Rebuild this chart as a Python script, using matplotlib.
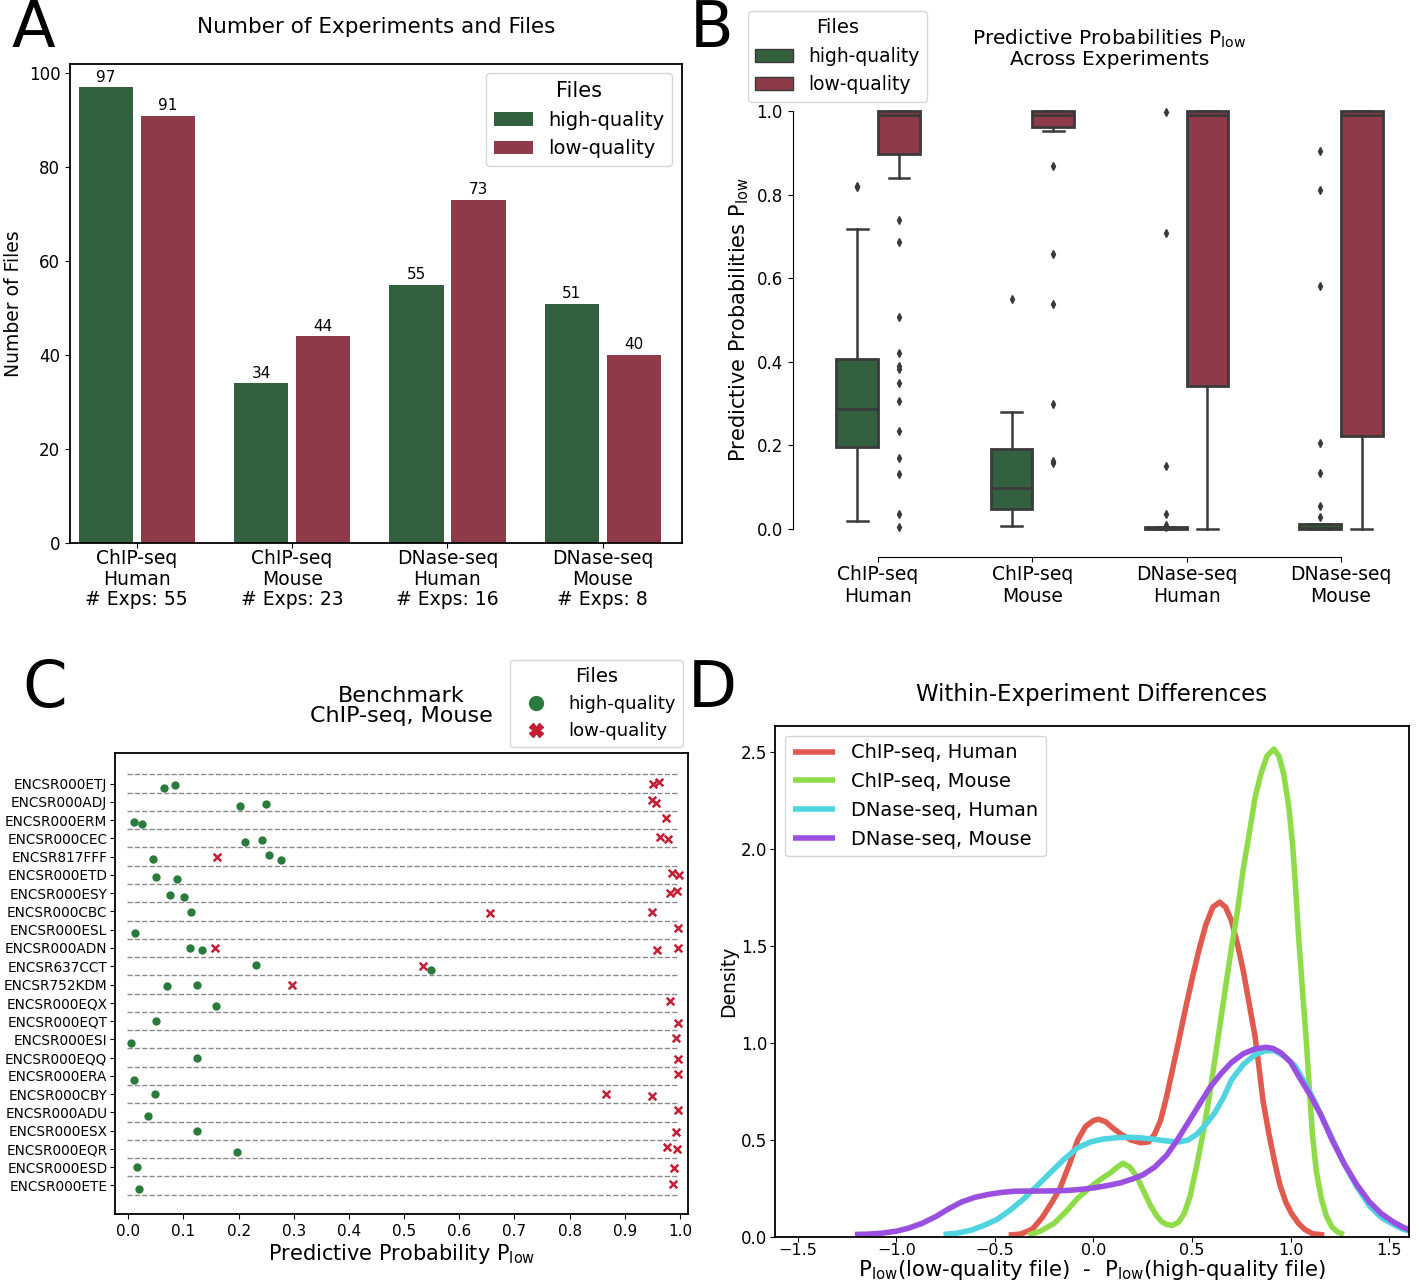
import matplotlib
matplotlib.use('Agg')
import matplotlib.pyplot as plt
from matplotlib.patches import Patch
from matplotlib.lines import Line2D

plt.rcParams['font.family'] = ['DejaVu Sans']

GREEN = '#33603f'
RED = '#8e3a48'
DOT_GREEN = '#2b7a3d'
X_RED = '#c41e34'

# ---------------- Panel A data ----------------
groups_a = ['ChIP-seq\nHuman\n# Exps: 55', 'ChIP-seq\nMouse\n# Exps: 23',
            'DNase-seq\nHuman\n# Exps: 16', 'DNase-seq\nMouse\n# Exps: 8']
high_counts = [97, 34, 55, 51]
low_counts = [91, 44, 73, 40]

# ---------------- Panel B data ----------------
groups_b = ['ChIP-seq\nHuman', 'ChIP-seq\nMouse', 'DNase-seq\nHuman', 'DNase-seq\nMouse']
# (whislo, q1, med, q3, whishi)
high_box = [(0.020, 0.197, 0.288, 0.406, 0.717),
            (0.007, 0.048, 0.098, 0.192, 0.279),
            (0.000, 0.000, 0.002, 0.004, 0.006),
            (0.000, 0.000, 0.003, 0.011, 0.013)]
high_fliers = [[0.820, 0.817],
               [0.551],
               [0.998, 0.709, 0.150, 0.036, 0.010, 0.006],
               [0.905, 0.811, 0.582, 0.207, 0.134, 0.056, 0.030]]
low_box = [(0.839, 0.896, 0.990, 1.000, 1.000),
           (0.953, 0.962, 0.990, 1.000, 1.000),
           (0.000, 0.343, 0.991, 1.000, 1.000),
           (0.000, 0.223, 0.990, 1.000, 1.000)]
low_fliers = [[0.738, 0.687, 0.507, 0.421, 0.389, 0.384, 0.349, 0.306, 0.235, 0.170, 0.131, 0.037, 0.006],
              [0.869, 0.659, 0.538, 0.300, 0.164, 0.159],
              [],
              []]

# ---------------- Panel C data ----------------
experiments = ['ENCSR000ETJ', 'ENCSR000ADJ', 'ENCSR000ERM', 'ENCSR000CEC', 'ENCSR817FFF',
               'ENCSR000ETD', 'ENCSR000ESY', 'ENCSR000CBC', 'ENCSR000ESL', 'ENCSR000ADN',
               'ENCSR637CCT', 'ENCSR752KDM', 'ENCSR000EQX', 'ENCSR000EQT', 'ENCSR000ESI',
               'ENCSR000EQQ', 'ENCSR000ERA', 'ENCSR000CBY', 'ENCSR000ADU', 'ENCSR000ESX',
               'ENCSR000EQR', 'ENCSR000ESD', 'ENCSR000ETE']
high_vals = [[0.065, 0.085], [0.202, 0.249], [0.010, 0.025], [0.211, 0.243], [0.044, 0.255, 0.277],
             [0.051, 0.088], [0.076, 0.101], [0.114], [0.013], [0.112, 0.133],
             [0.232, 0.548], [0.071, 0.124], [0.159], [0.051], [0.005],
             [0.124], [0.011], [0.048], [0.036], [0.124],
             [0.198], [0.015], [0.020]]
high_jitter = [[0.23, 0.10], [0.21, 0.10], [0.11, 0.22], [0.20, 0.11], [0.11, -0.09, 0.20],
               [0.11, 0.21], [0.10, 0.21], [0.02], [0.20], [0.0, 0.11],
               [-0.08, 0.21], [0.10, 0.01], [0.20], [0.0], [0.20],
               [0.0], [0.21], [0.01], [0.20], [0.0],
               [0.19], [0.0], [0.20]]
low_vals = [[0.951, 0.962], [0.949, 0.957], [0.974], [0.964, 0.979], [0.161],
            [0.986, 0.998], [0.982, 0.995], [0.656, 0.949], [0.996], [0.158, 0.959, 0.996],
            [0.534], [0.297], [0.981], [0.996], [0.993],
            [0.996], [0.996], [0.865, 0.950], [0.996], [0.993],
            [0.977, 0.994], [0.990], [0.988]]
low_jitter = [[0.0, -0.08], [-0.08, 0.05], [-0.09], [-0.09, 0.02], [0.02],
              [-0.09, 0.02], [0.0, -0.10], [0.10, 0.02], [-0.09], [0.0, 0.11, 0.0],
              [-0.01], [0.01], [-0.09], [0.11], [-0.09],
              [0.10], [-0.10], [0.0, 0.09], [-0.11], [0.06],
              [-0.10, 0.0], [0.06], [-0.09]]

# ---------------- Panel D data (density curves) ----------------
kde_labels = ['ChIP-seq, Human', 'ChIP-seq, Mouse', 'DNase-seq, Human', 'DNase-seq, Mouse']
kde_colors = ['#e05a4e', '#8fdc4a', '#4fd4e0', '#9b4fe0']
chip_human_x = [-0.43, -0.37, -0.31, -0.26, -0.21, -0.17, -0.12, -0.08, -0.04, 0.0, 0.025, 0.06,
                0.10, 0.14, 0.19, 0.24, 0.28, 0.31, 0.34, 0.37, 0.40, 0.43, 0.465, 0.50, 0.535,
                0.57, 0.605, 0.64, 0.67, 0.70, 0.73, 0.76, 0.79, 0.82, 0.84, 0.86, 0.89, 0.92,
                0.945, 0.975, 1.005, 1.04, 1.07, 1.11, 1.17]
chip_human_y = [0.01, 0.015, 0.04, 0.10, 0.18, 0.25, 0.38, 0.50, 0.57, 0.60, 0.607, 0.595,
                0.56, 0.53, 0.50, 0.486, 0.49, 0.53, 0.60, 0.72, 0.86, 1.00, 1.17, 1.33, 1.48,
                1.61, 1.70, 1.726, 1.70, 1.63, 1.51, 1.37, 1.20, 1.03, 0.87, 0.70, 0.53, 0.38,
                0.27, 0.18, 0.12, 0.07, 0.04, 0.017, 0.01]
chip_mouse_x = [-0.33, -0.27, -0.20, -0.14, -0.08, -0.04, 0.0, 0.04, 0.085, 0.12, 0.15, 0.185,
                0.22, 0.255, 0.29, 0.32, 0.345, 0.37, 0.40, 0.43, 0.46, 0.49, 0.52, 0.555,
                0.59, 0.625, 0.66, 0.695, 0.73, 0.76, 0.795, 0.82, 0.85, 0.88, 0.915, 0.94,
                0.964, 0.99, 1.01, 1.025, 1.04, 1.06, 1.08, 1.095, 1.11, 1.13, 1.155, 1.18,
                1.21, 1.24, 1.27]
chip_mouse_y = [0.01, 0.03, 0.07, 0.13, 0.20, 0.235, 0.27, 0.30, 0.33, 0.36, 0.38, 0.36,
                0.31, 0.235, 0.16, 0.11, 0.08, 0.065, 0.06, 0.075, 0.12, 0.21, 0.35, 0.53,
                0.74, 0.98, 1.22, 1.46, 1.68, 1.90, 2.11, 2.27, 2.39, 2.48, 2.515, 2.48,
                2.39, 2.22, 2.02, 1.80, 1.55, 1.27, 1.00, 0.76, 0.53, 0.34, 0.20, 0.11,
                0.05, 0.025, 0.013]
dnase_human_x = [-0.76, -0.69, -0.62, -0.555, -0.49, -0.42, -0.35, -0.285, -0.22, -0.15, -0.08,
                 -0.015, 0.05, 0.12, 0.19, 0.25, 0.30, 0.37, 0.435, 0.48, 0.525, 0.57, 0.615,
                 0.66, 0.70, 0.76, 0.82, 0.87, 0.92, 0.97, 1.02, 1.075, 1.13, 1.20, 1.27, 1.335,
                 1.40, 1.46, 1.52, 1.57, 1.62]
dnase_human_y = [0.013, 0.02, 0.035, 0.06, 0.09, 0.14, 0.20, 0.265, 0.33, 0.40, 0.46,
                 0.49, 0.505, 0.512, 0.514, 0.51, 0.505, 0.495, 0.49, 0.50, 0.53, 0.58, 0.64,
                 0.72, 0.81, 0.89, 0.94, 0.96, 0.96, 0.93, 0.885, 0.79, 0.68, 0.53, 0.38, 0.26,
                 0.16, 0.10, 0.065, 0.04, 0.025]
dnase_mouse_x = [-1.21, -1.14, -1.07, -1.0, -0.94, -0.87, -0.80, -0.735, -0.67, -0.60, -0.53,
                 -0.465, -0.40, -0.33, -0.26, -0.195, -0.13, -0.06, 0.007, 0.07, 0.14, 0.20,
                 0.25, 0.31, 0.37, 0.425, 0.48, 0.535, 0.59, 0.645, 0.70, 0.76, 0.82, 0.875,
                 0.91, 0.95, 1.0, 1.04, 1.10, 1.155, 1.21, 1.27, 1.335, 1.40, 1.46, 1.52, 1.57,
                 1.62]
dnase_mouse_y = [0.013, 0.015, 0.02, 0.03, 0.045, 0.07, 0.105, 0.145, 0.18, 0.205, 0.22,
                 0.23, 0.236, 0.237, 0.237, 0.238, 0.24, 0.246, 0.254, 0.265, 0.28, 0.30,
                 0.32, 0.36, 0.42, 0.50, 0.59, 0.68, 0.77, 0.84, 0.90, 0.945, 0.97, 0.978,
                 0.972, 0.95, 0.90, 0.83, 0.73, 0.625, 0.50, 0.38, 0.27, 0.18, 0.12, 0.078, 0.05,
                 0.03]

W, H = 1419, 1285
fig = plt.figure(figsize=(W / 100, H / 100), dpi=100)


def axes_px(left, top, right, bottom):
    return fig.add_axes([left / W, 1 - bottom / H, (right - left) / W, (bottom - top) / H])


# ================= Panel A =================
axA = axes_px(70, 64, 682, 543)
xs = list(range(len(groups_a)))
bh = axA.bar([x - 0.2 for x in xs], high_counts, width=0.35, color=GREEN, label='high-quality')
bl = axA.bar([x + 0.2 for x in xs], low_counts, width=0.35, color=RED, label='low-quality')
axA.bar_label(bh, fontsize=11, padding=2)
axA.bar_label(bl, fontsize=11, padding=2)
axA.set_xlim(-0.43, 3.51)
axA.set_ylim(0, 102)
axA.set_xticks(xs)
axA.set_xticklabels(groups_a, fontsize=13.5, linespacing=1.1)
axA.tick_params(axis='x', pad=1)
axA.tick_params(axis='y', labelsize=12)
axA.set_ylabel('Number of Files', fontsize=13.5)
axA.set_title('Number of Experiments and Files', fontsize=15.5, pad=22)
axA.legend(title='Files', fontsize=14, title_fontsize=15, loc='upper right',
           bbox_to_anchor=(0.984, 0.981), borderaxespad=0, handlelength=2.0)
for s in axA.spines.values():
    s.set_linewidth(1.3)

# ================= Panel B =================
axB = axes_px(801, 90, 1418, 550)
statsH, statsL = [], []
for i in range(4):
    lo, q1, med, q3, hi = high_box[i]
    statsH.append(dict(whislo=lo, q1=q1, med=med, q3=q3, whishi=hi, fliers=high_fliers[i]))
    lo, q1, med, q3, hi = low_box[i]
    statsL.append(dict(whislo=lo, q1=q1, med=med, q3=q3, whishi=hi, fliers=low_fliers[i]))
common = dict(widths=0.27, patch_artist=True, showcaps=True, manage_ticks=False,
              boxprops=dict(edgecolor='#3a3a3a', linewidth=2),
              medianprops=dict(color='#3a3a3a', linewidth=2),
              whiskerprops=dict(color='#3a3a3a', linewidth=1.8),
              capprops=dict(color='#3a3a3a', linewidth=1.8),
              flierprops=dict(marker='d', markersize=4, markerfacecolor='#3a3a3a',
                              markeredgecolor='#3a3a3a'))
bpH = axB.bxp(statsH, positions=[i - 0.135 for i in range(4)], **common)
bpL = axB.bxp(statsL, positions=[i + 0.135 for i in range(4)], **common)
for p in bpH['boxes']:
    p.set_facecolor(GREEN)
for p in bpL['boxes']:
    p.set_facecolor(RED)
axB.set_xlim(-0.5, 3.5)
axB.set_ylim(-0.05, 1.05)
axB.set_xticks(range(4))
axB.set_xticklabels(groups_b, linespacing=1.1)
axB.tick_params(axis='x', labelsize=13.5, pad=2)
axB.set_yticks([0, 0.2, 0.4, 0.6, 0.8, 1.0])
axB.tick_params(axis='y', labelsize=12)
axB.spines['top'].set_visible(False)
axB.spines['right'].set_visible(False)
axB.spines['left'].set_position(('outward', 6))
axB.spines['bottom'].set_position(('outward', 5))
axB.spines['left'].set_bounds(0, 1)
axB.spines['bottom'].set_bounds(0, 3)
axB.set_ylabel('Predictive Probabilities P$_{\\mathregular{low}}$', fontsize=15)
axB.set_title('Predictive Probabilities P$_{\\mathregular{low}}$\nAcross Experiments',
              fontsize=14.5, pad=18, linespacing=1.0)
axB.legend(handles=[Patch(facecolor=GREEN, edgecolor='#3a3a3a', label='high-quality'),
                    Patch(facecolor=RED, edgecolor='#3a3a3a', label='low-quality')],
           title='Files', fontsize=13.5, title_fontsize=14, loc='upper left',
           bbox_to_anchor=(-0.086, 1.172), borderaxespad=0)

# ================= Panel C =================
axC = axes_px(115, 753, 688, 1214)
n = len(experiments)
for i in range(-1, n):
    axC.hlines(i + 0.5, -0.003, 0.997, colors='#8a8a8a', linestyles='--', linewidth=1.0)
for i in range(n):
    axC.scatter(high_vals[i], [i + j for j in high_jitter[i]], s=36, color=DOT_GREEN,
                marker='o', zorder=3, linewidths=0)
    axC.scatter(low_vals[i], [i + j for j in low_jitter[i]], s=30, color=X_RED,
                marker='x', zorder=3, linewidths=1.8)
axC.set_xlim(-0.024, 1.0145)
axC.set_ylim(23.56, -1.67)
axC.set_yticks(range(n))
axC.set_yticklabels(experiments, fontsize=9.8)
axC.tick_params(axis='y', pad=2)
axC.set_xticks([i / 10 for i in range(11)])
axC.set_xticklabels(['%.1f' % (i / 10) for i in range(11)], fontsize=11)
axC.set_xlabel('Predictive Probability P$_{\\mathregular{low}}$', fontsize=15, labelpad=2)
axC.set_title('Benchmark\nChIP-seq, Mouse', fontsize=16, pad=22, linespacing=1.05)
axC.legend(handles=[Line2D([], [], marker='o', color='none', markerfacecolor=DOT_GREEN,
                           markeredgecolor=DOT_GREEN, markersize=10, label='high-quality'),
                    Line2D([], [], marker='X', color='none', markerfacecolor=X_RED,
                           markeredgecolor=X_RED, markersize=10, label='low-quality')],
           title='Files', fontsize=13, title_fontsize=14, loc='upper right',
           bbox_to_anchor=(0.991, 1.202), borderaxespad=0)
for s in axC.spines.values():
    s.set_linewidth(1.3)

# ================= Panel D =================
axD = axes_px(775, 726, 1409, 1237)
curves = [(chip_human_x, chip_human_y), (chip_mouse_x, chip_mouse_y),
          (dnase_human_x, dnase_human_y), (dnase_mouse_x, dnase_mouse_y)]
for (cx, cy), lab, col in zip(curves, kde_labels, kde_colors):
    axD.plot(cx, cy, color=col, linewidth=4, label=lab, solid_capstyle='butt',
             solid_joinstyle='round')
axD.set_xlim(-1.615, 1.6)
axD.set_ylim(0, 2.634)
axD.set_xticks([-1.5, -1.0, -0.5, 0.0, 0.5, 1.0, 1.5])
axD.set_yticks([0, 0.5, 1.0, 1.5, 2.0, 2.5])
axD.tick_params(axis='y', labelsize=12, pad=2)
axD.tick_params(axis='x', labelsize=11.5, pad=1)
axD.set_ylabel('Density', fontsize=13.5, labelpad=2)
axD.set_xlabel('P$_{\\mathregular{low}}$(low-quality file)  -  P$_{\\mathregular{low}}$(high-quality file)',
               fontsize=15.3, labelpad=0)
axD.set_title('Within-Experiment Differences', fontsize=16.5, pad=18)
axD.legend(fontsize=14, loc='upper left', handlelength=2.2)
for s in axD.spines.values():
    s.set_linewidth(1.3)

# ================= Panel letters =================
for txt, x, y in [('A', 12, 47), ('B', 690, 47), ('C', 22, 707), ('D', 688, 707)]:
    fig.text(x / W, 1 - y / H, txt, fontsize=46, ha='left', va='baseline')

fig.savefig('out.png', dpi=100)
